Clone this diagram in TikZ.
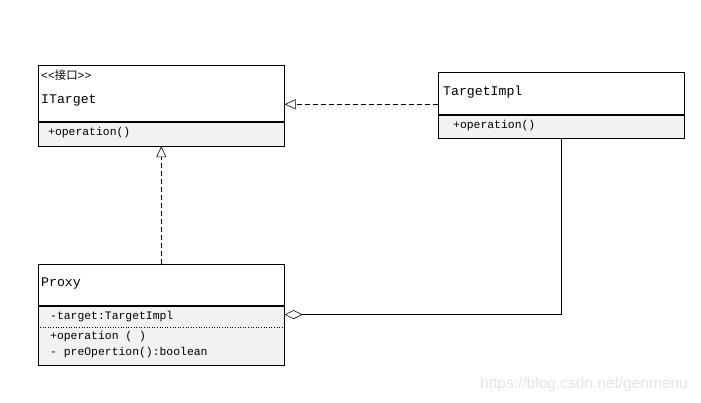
\documentclass[tikz,border=0pt]{standalone}
\usepackage{fontspec}
\setmainfont{Liberation Mono}[Ligatures=NoCommon]
\newfontfamily\cjk{Noto Sans CJK SC}
\newfontfamily\wm{Liberation Sans}
\usetikzlibrary{arrows.meta}
\definecolor{opsfill}{HTML}{F2F2F2}
\definecolor{wmgray}{HTML}{E4E4E4}
\tikzset{
  box/.style={draw=black, line width=0.6pt, fill=white, inner sep=0pt, anchor=north west},
  opsbox/.style={box, fill=opsfill},
  title/.style={anchor=west, inner sep=0pt, font=\fontsize{13.2}{15}\selectfont},
  member/.style={anchor=west, inner sep=0pt, font=\fontsize{11.4}{13}\selectfont},
  realize/.style={draw=black, line width=0.6pt, dashed, dash pattern=on 5pt off 3pt, -{Triangle[open, length=11pt, width=10pt, line width=0.6pt]}},
  aggr/.style={draw=black, line width=0.6pt, -{Diamond[open, length=18pt, width=9pt, line width=0.6pt]}}
}
\begin{document}
\begin{tikzpicture}[x=1pt, y=-1pt]
\useasboundingbox (0,0) rectangle (701,403);
% ITarget
\node[box, minimum width=246pt, minimum height=56pt] (itH) at (38,65) {};
\node[opsbox, minimum width=246pt, minimum height=24pt] (itO) at (itH.south west) {};
\node[member] (itS) at (41,75) {{<}{<}{\cjk 接口}{>}{>}};
\node[title] (itT) at (41,100) {ITarget};
\node[member] (itM) at (48,133) {+operation()};
% TargetImpl
\node[box, minimum width=246pt, minimum height=42pt] (tiH) at (438,72) {};
\node[opsbox, minimum width=246pt, minimum height=23pt] (tiO) at (tiH.south west) {};
\node[title] (tiT) at (443,92) {TargetImpl};
\node[member] (tiM) at (453,126) {+operation()};
% Proxy
\node[box, minimum width=246pt, minimum height=41pt] (prH) at (38,264) {};
\node[opsbox, minimum width=246pt, minimum height=59pt] (prO) at (prH.south west) {};
\node[title] (prT) at (41,284) {Proxy};
\node[member] (prA) at (50,317) {-target:TargetImpl};
\node[member] (prM1) at (50,337) {+operation ( )};
\node[member] (prM2) at (50,353) {- preOpertion():boolean};
\coordinate (dl) at ([xshift=2pt, yshift=-22pt]prO.north west);
\coordinate (dr) at ([xshift=-2pt, yshift=-22pt]prO.north east);
\draw[line width=0.6pt, dotted] (dl) -- (dr);
% connectors
\coordinate (rA) at ([yshift=-11pt]tiH.west);
\draw[realize] (rA) -- (rA -| itH.east);
\draw[realize] (prH.north) -- (itO.south);
\coordinate (agg) at ([yshift=-9pt]prO.north east);
\draw[aggr] (tiO.south) |- (agg);
% watermark
\node[anchor=west, inner sep=0pt, text=wmgray, font=\wm\fontsize{15.5}{17}\selectfont] (wmark) at (480,384) {https://blog.csdn.net/genmenu};
\end{tikzpicture}
\end{document}
